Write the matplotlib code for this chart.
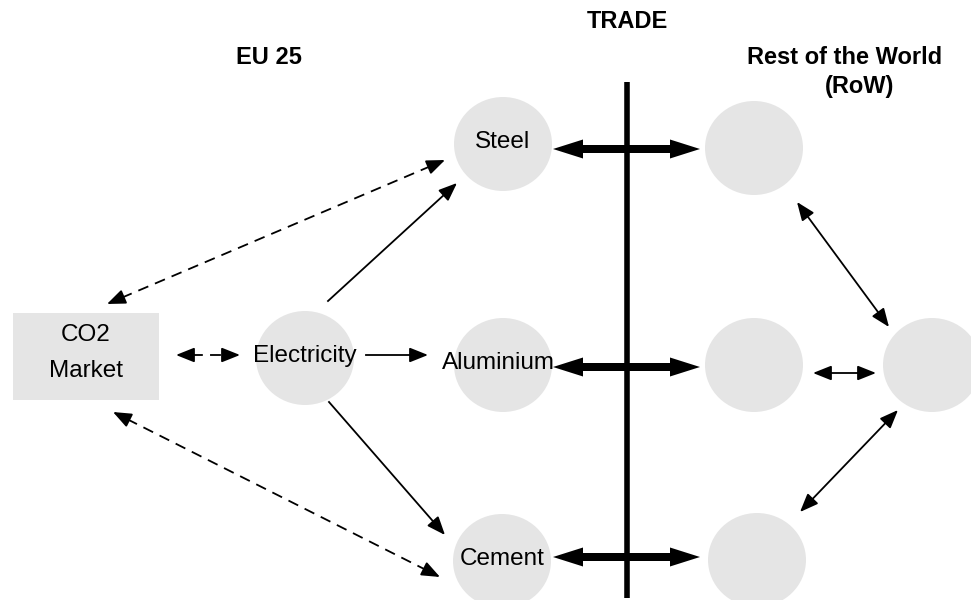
import numpy as np
import matplotlib.pyplot as plt
from matplotlib.patches import Ellipse, Rectangle, FancyArrow

plt.rcParams['font.family'] = ['Liberation Sans', 'DejaVu Sans']

# Nodes (pixel coords, y grows downwards)
node_labels = ['Electricity', 'Steel', 'Aluminium', 'Cement', '', '', '', '']
node_x = [305, 503, 503, 502, 754, 754, 932, 757]
node_y = [358, 144, 365, 561, 148, 365, 365, 560]

# CO2 market box
box_label = 'CO2\nMarket'

# Thin arrows: (x0, y0, x1, y1, both ends?, dashed?)
thin_arrows = [
    (107, 304, 445, 160, True, True),     # CO2 <-> Steel
    (113, 412, 440, 577, True, True),     # CO2 <-> Cement
    (176, 355, 240, 355, True, True),     # CO2 <-> Electricity
    (328, 301, 457, 183, False, False),   # Electricity -> Steel
    (366, 355, 428, 355, False, False),   # Electricity -> Aluminium
    (329, 402, 445, 535, False, False),   # Electricity -> Cement
    (797, 202, 889, 327, True, False),    # RoW top <-> RoW right
    (800, 512, 898, 410, True, False),    # RoW bottom <-> RoW right
    (813, 373, 876, 373, True, False),    # RoW mid <-> RoW right
]

# Trade arrows (thick, double headed)
trade_y = [149, 367, 557]
trade_x0 = 553
trade_x1 = 700

fig = plt.figure(figsize=(9.71, 6), dpi=100)
ax = fig.add_axes([0, 0, 1, 1])
ax.set_xlim(0, 971)
ax.set_ylim(600, 0)
ax.axis('off')

grey = '#e5e5e5'

ax.add_patch(Rectangle((13, 313), 146, 87, facecolor=grey, edgecolor='none'))
ax.text(86, 353, box_label, ha='center', va='center', fontsize=17.5,
        linespacing=1.8)

for lab, x, y in zip(node_labels, node_x, node_y):
    ax.add_patch(Ellipse((x, y), 98, 94, facecolor=grey, edgecolor='none'))
    if lab:
        ax.text(x - 5 if lab == 'Aluminium' else x, y - 2, lab,
                ha='center', va='center', fontsize=17.5)

head = dict(arrowstyle='-|>,head_length=0.7,head_width=0.28',
            mutation_scale=16, lw=1.3, color='black', shrinkA=0, shrinkB=0)


def draw_head(xe, ye, xs, ys):
    d = np.array([xe - xs, ye - ys], float)
    d /= np.hypot(*d)
    p = np.array([xe, ye]) - 16 * d
    ax.annotate('', xy=(xe, ye), xytext=tuple(p), arrowprops=head)
    return p


for x0, y0, x1, y1, both, dashed in thin_arrows:
    p1 = draw_head(x1, y1, x0, y0)
    p0 = draw_head(x0, y0, x1, y1) if both else np.array([x0, y0])
    ax.plot([p0[0], p1[0]], [p0[1], p1[1]], color='black', lw=1.3,
            ls=(0, (6, 4)) if dashed else '-')

# trade border
ax.plot([627, 627], [82, 598], color='black', lw=4, solid_capstyle='butt')

mid = (trade_x0 + trade_x1) / 2
for y in trade_y:
    for end in (trade_x0, trade_x1):
        ax.add_patch(FancyArrow(mid, y, end - mid, 0, width=8, head_width=19,
                                head_length=30, length_includes_head=True,
                                color='black', lw=0))

ax.text(627, 22, 'TRADE', ha='center', va='center', fontsize=17, fontweight='bold')
ax.text(269, 58, 'EU 25', ha='center', va='center', fontsize=17, fontweight='bold')
ax.text(845, 58, 'Rest of the World', ha='center', va='center', fontsize=17,
        fontweight='bold')
ax.text(860, 87, '(RoW)', ha='center', va='center', fontsize=17, fontweight='bold')

fig.savefig('out.png', dpi=100)
